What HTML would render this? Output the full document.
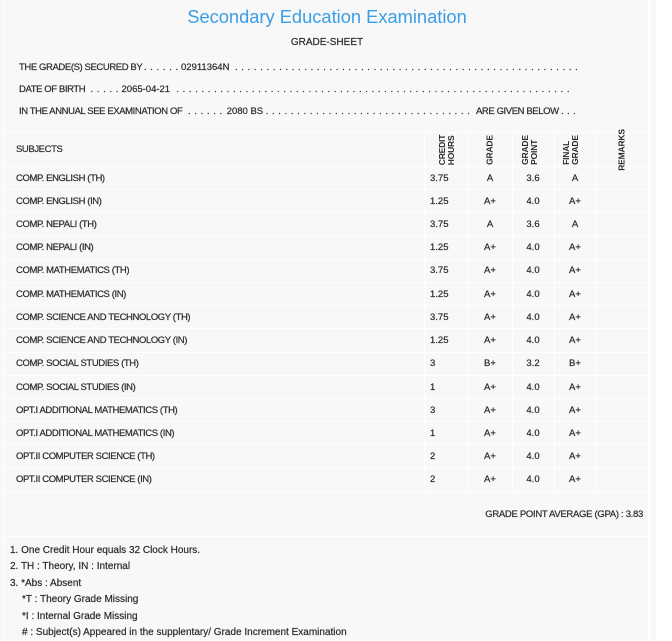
<!DOCTYPE html>
<html><head><meta charset="utf-8"><style>
body{margin:0;width:672px;height:640px;background:#fff;position:relative;overflow:hidden;font-family:"Liberation Sans",Arial,sans-serif;color:#333}
.bg{position:absolute;left:0;top:0;width:656px;height:640px;background:#f8f8f8}
.vl{position:absolute;width:1px;background:#fff}
.hl{position:absolute;left:4px;width:644px;height:1px;background:#fff}
.t{position:absolute;font-size:9.5px;line-height:12px;white-space:nowrap;letter-spacing:-0.4px;color:#2a2a2a;-webkit-text-stroke:0.2px #2a2a2a}
.n{letter-spacing:0}
.d{letter-spacing:3.66px}
.c{text-align:center;width:40px;letter-spacing:0}
.rh{position:absolute;top:149.5px;font-size:8.5px;font-weight:bold;line-height:9px;white-space:nowrap;transform:translate(-50%,-50%) rotate(-90deg);letter-spacing:-0.2px;color:#2a2a2a}
.title{position:absolute;left:4px;width:646px;top:6px;text-align:center;font-size:18.3px;line-height:22px;color:#3a9ee6;white-space:nowrap}
.gs{position:absolute;left:4px;width:646px;top:37px;text-align:center;font-size:10px;line-height:12px;color:#2a2a2a;-webkit-text-stroke:0.2px #2a2a2a}
.fn{position:absolute;left:10px;top:543px;font-size:10px;line-height:16.4px;color:#2a2a2a;white-space:nowrap;-webkit-text-stroke:0.2px #2a2a2a}
.fn div.i{padding-left:12px}
</style></head><body>
<div class="bg"></div>
<div class="vl" style="left:4px;top:0;height:640px"></div>
<div class="vl" style="left:648px;top:0;height:640px;width:2px"></div>

<div class="title">Secondary Education Examination</div>
<div class="gs">GRADE-SHEET</div>

<!-- line 1 -->
<div class="t" style="left:19px;top:61.5px">THE GRADE(S) SECURED BY</div>
<div class="t d" style="left:144px;top:61.5px">......</div>
<div class="t n" style="left:181px;top:61.5px">02911364N</div>
<div class="t d" style="left:235px;top:61.5px">.......................................................</div>
<!-- line 2 -->
<div class="t" style="left:19px;top:83.5px">DATE OF BIRTH</div>
<div class="t d" style="left:90.5px;top:83.5px">.....</div>
<div class="t n" style="left:121.5px;top:83.5px">2065-04-21</div>
<div class="t d" style="left:176.3px;top:83.5px">...............................................................</div>
<!-- line 3 -->
<div class="t" style="left:19px;top:105.5px">IN THE ANNUAL SEE EXAMINATION OF</div>
<div class="t d" style="left:188px;top:105.5px">......</div>
<div class="t n" style="left:226.7px;top:105.5px">2080 BS</div>
<div class="t d" style="left:265.7px;top:105.5px">.................................</div>
<div class="t" style="left:476px;top:105.5px">ARE GIVEN BELOW</div>
<div class="t d" style="left:561px;top:105.5px;letter-spacing:3.4px">...</div>

<!-- table lines -->
<div class="hl" style="top:132px"></div>
<div class="hl" style="top:166px"></div>
<div class="hl" style="top:189px"></div>
<div class="hl" style="top:212px"></div>
<div class="hl" style="top:236px"></div>
<div class="hl" style="top:259px"></div>
<div class="hl" style="top:282px"></div>
<div class="hl" style="top:305px"></div>
<div class="hl" style="top:328px"></div>
<div class="hl" style="top:352px"></div>
<div class="hl" style="top:375px"></div>
<div class="hl" style="top:398px"></div>
<div class="hl" style="top:421px"></div>
<div class="hl" style="top:444px"></div>
<div class="hl" style="top:468px"></div>
<div class="hl" style="top:491px"></div>
<div class="hl" style="top:536px"></div>
<div class="vl" style="left:424px;top:132px;height:359px"></div>
<div class="vl" style="left:468px;top:132px;height:359px"></div>
<div class="vl" style="left:512px;top:132px;height:359px"></div>
<div class="vl" style="left:554px;top:132px;height:359px"></div>
<div class="vl" style="left:596px;top:132px;height:359px"></div>

<!-- header -->
<div class="t" style="left:16px;top:143.5px">SUBJECTS</div>
<div class="rh" style="left:446.5px">CREDIT<br>HOURS</div>
<div class="rh" style="left:490px">GRADE</div>
<div class="rh" style="left:530px">GRADE<br>POINT</div>
<div class="rh" style="left:571px">FINAL<br>GRADE</div>
<div class="rh" style="left:622px">REMARKS</div>

<!-- rows -->
<div class="t" style="left:16px;top:173px">COMP. ENGLISH (TH)</div><div class="t n" style="left:430px;top:173px">3.75</div><div class="t c" style="left:470px;top:173px">A</div><div class="t c" style="left:513px;top:173px">3.6</div><div class="t c" style="left:555px;top:173px">A</div>
<div class="t" style="left:16px;top:196px">COMP. ENGLISH (IN)</div><div class="t n" style="left:430px;top:196px">1.25</div><div class="t c" style="left:470px;top:196px">A+</div><div class="t c" style="left:513px;top:196px">4.0</div><div class="t c" style="left:555px;top:196px">A+</div>
<div class="t" style="left:16px;top:219px">COMP. NEPALI (TH)</div><div class="t n" style="left:430px;top:219px">3.75</div><div class="t c" style="left:470px;top:219px">A</div><div class="t c" style="left:513px;top:219px">3.6</div><div class="t c" style="left:555px;top:219px">A</div>
<div class="t" style="left:16px;top:242px">COMP. NEPALI (IN)</div><div class="t n" style="left:430px;top:242px">1.25</div><div class="t c" style="left:470px;top:242px">A+</div><div class="t c" style="left:513px;top:242px">4.0</div><div class="t c" style="left:555px;top:242px">A+</div>
<div class="t" style="left:16px;top:265px">COMP. MATHEMATICS (TH)</div><div class="t n" style="left:430px;top:265px">3.75</div><div class="t c" style="left:470px;top:265px">A+</div><div class="t c" style="left:513px;top:265px">4.0</div><div class="t c" style="left:555px;top:265px">A+</div>
<div class="t" style="left:16px;top:289px">COMP. MATHEMATICS (IN)</div><div class="t n" style="left:430px;top:289px">1.25</div><div class="t c" style="left:470px;top:289px">A+</div><div class="t c" style="left:513px;top:289px">4.0</div><div class="t c" style="left:555px;top:289px">A+</div>
<div class="t" style="left:16px;top:312px">COMP. SCIENCE AND TECHNOLOGY (TH)</div><div class="t n" style="left:430px;top:312px">3.75</div><div class="t c" style="left:470px;top:312px">A+</div><div class="t c" style="left:513px;top:312px">4.0</div><div class="t c" style="left:555px;top:312px">A+</div>
<div class="t" style="left:16px;top:335px">COMP. SCIENCE AND TECHNOLOGY (IN)</div><div class="t n" style="left:430px;top:335px">1.25</div><div class="t c" style="left:470px;top:335px">A+</div><div class="t c" style="left:513px;top:335px">4.0</div><div class="t c" style="left:555px;top:335px">A+</div>
<div class="t" style="left:16px;top:358px">COMP. SOCIAL STUDIES (TH)</div><div class="t n" style="left:430px;top:358px">3</div><div class="t c" style="left:470px;top:358px">B+</div><div class="t c" style="left:513px;top:358px">3.2</div><div class="t c" style="left:555px;top:358px">B+</div>
<div class="t" style="left:16px;top:382px">COMP. SOCIAL STUDIES (IN)</div><div class="t n" style="left:430px;top:382px">1</div><div class="t c" style="left:470px;top:382px">A+</div><div class="t c" style="left:513px;top:382px">4.0</div><div class="t c" style="left:555px;top:382px">A+</div>
<div class="t" style="left:16px;top:405px">OPT.I ADDITIONAL MATHEMATICS (TH)</div><div class="t n" style="left:430px;top:405px">3</div><div class="t c" style="left:470px;top:405px">A+</div><div class="t c" style="left:513px;top:405px">4.0</div><div class="t c" style="left:555px;top:405px">A+</div>
<div class="t" style="left:16px;top:428px">OPT.I ADDITIONAL MATHEMATICS (IN)</div><div class="t n" style="left:430px;top:428px">1</div><div class="t c" style="left:470px;top:428px">A+</div><div class="t c" style="left:513px;top:428px">4.0</div><div class="t c" style="left:555px;top:428px">A+</div>
<div class="t" style="left:16px;top:451px">OPT.II COMPUTER SCIENCE (TH)</div><div class="t n" style="left:430px;top:451px">2</div><div class="t c" style="left:470px;top:451px">A+</div><div class="t c" style="left:513px;top:451px">4.0</div><div class="t c" style="left:555px;top:451px">A+</div>
<div class="t" style="left:16px;top:474px">OPT.II COMPUTER SCIENCE (IN)</div><div class="t n" style="left:430px;top:474px">2</div><div class="t c" style="left:470px;top:474px">A+</div><div class="t c" style="left:513px;top:474px">4.0</div><div class="t c" style="left:555px;top:474px">A+</div>

<!-- GPA -->
<div class="t" style="right:29px;top:509px;letter-spacing:-0.3px">GRADE POINT AVERAGE (GPA) : 3.83</div>

<!-- footnotes -->
<div class="fn">
<div>1. One Credit Hour equals 32 Clock Hours.</div>
<div>2. TH : Theory, IN : Internal</div>
<div>3. *Abs : Absent</div>
<div class="i">*T : Theory Grade Missing</div>
<div class="i">*I : Internal Grade Missing</div>
<div class="i"># : Subject(s) Appeared in the supplentary/ Grade Increment Examination</div>
</div>
</body></html>
